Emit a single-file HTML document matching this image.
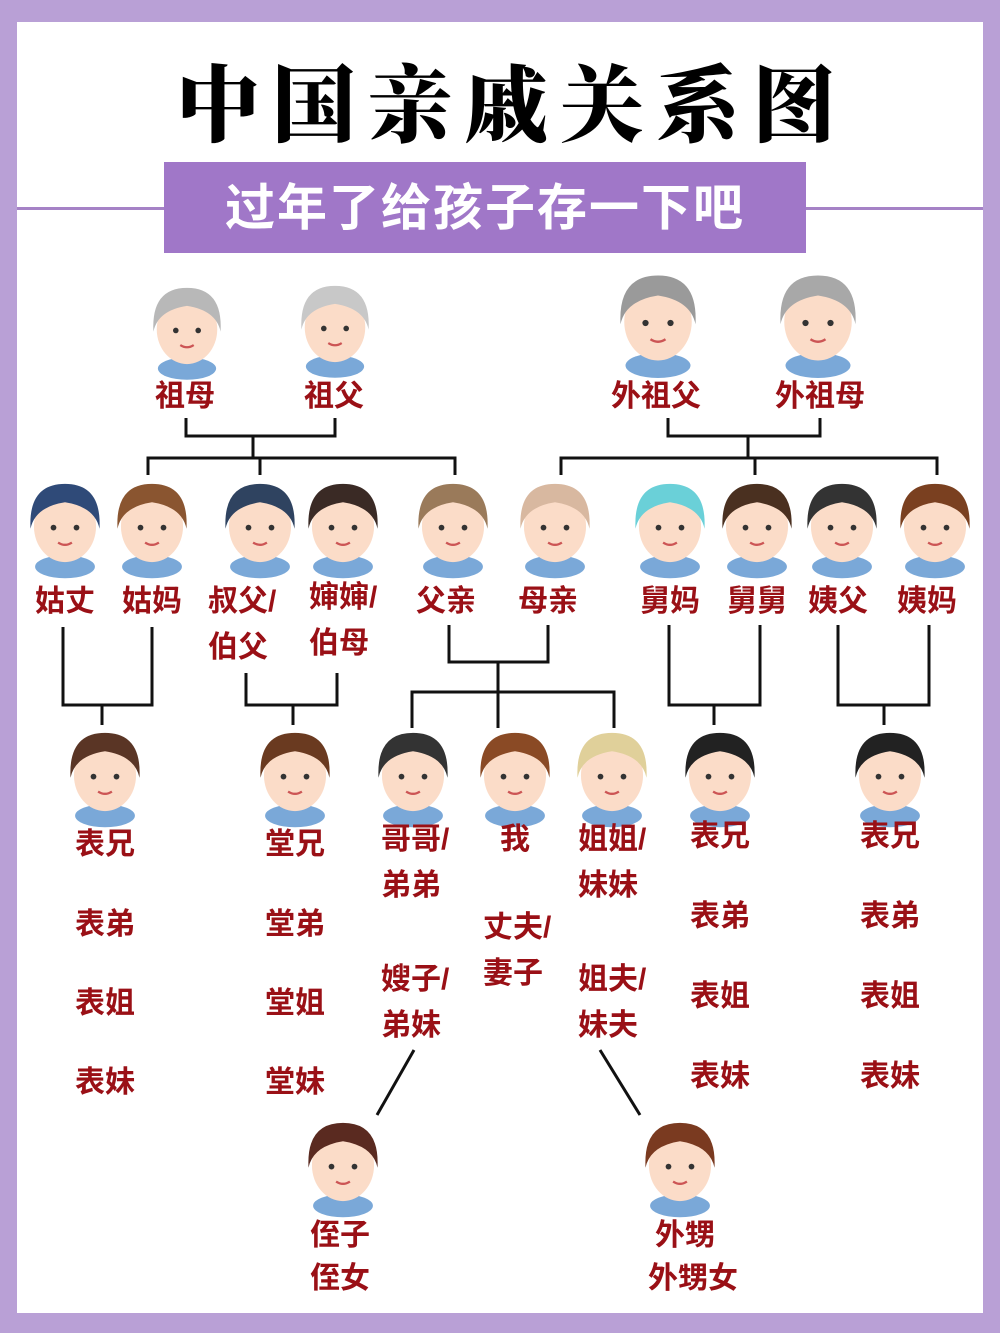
<!DOCTYPE html>
<html><head><meta charset="utf-8"><style>
body{margin:0;width:1000px;height:1333px;overflow:hidden;background:#b9a0d6;position:relative;font-family:"Liberation Sans","Noto Sans CJK SC",sans-serif}
#in{position:absolute;left:17px;top:22px;width:966px;height:1291px;background:#fff}
.t{position:absolute;font-size:30px;line-height:1;color:#9a1016;font-weight:bold;white-space:nowrap}
.t span{display:block;margin-top:16px}
</style></head><body>
<div id="in"></div>
<div style="position:absolute;left:17px;top:207px;width:966px;height:3px;background:#a582c6"></div>
<div style="position:absolute;left:150px;top:50px;width:700px;text-align:center;font-family:'Noto Serif CJK SC',serif;font-weight:900;font-size:84px;line-height:100px;letter-spacing:12px;color:#000;padding-left:12px">中国亲戚关系图</div>
<div style="position:absolute;left:164px;top:162px;width:642px;height:91px;background:#a077c8"></div>
<div style="position:absolute;left:164px;top:178px;width:642px;text-align:center;font-size:50px;line-height:60px;font-weight:bold;color:#fff;letter-spacing:2px;padding-left:0">过年了给孩子存一下吧</div>

<svg width="1000" height="1333" style="position:absolute;left:0;top:0">
<defs>
<g id="f">
<ellipse cx="0" cy="38" rx="26" ry="10" fill="#7aa8d8"/>
<ellipse cx="0" cy="3" rx="27" ry="31" fill="#fbdcc8"/>
<path d="M-30 5 Q-32 -34 0 -34 Q32 -34 30 5 Q26 -14 0 -18 Q-26 -14 -30 5Z" fill="currentColor"/>
<circle cx="-10" cy="4" r="2.5" fill="#333"/><circle cx="10" cy="4" r="2.5" fill="#333"/>
<path d="M-6 17 Q0 21 6 17" stroke="#c55" stroke-width="2" fill="none"/>
</g>
</defs>
<g stroke="#111" stroke-width="3" fill="none">
<path d="M186 418V436H335V418M253 436V458M148 475V458H455V475M260 458V475"/>
<path d="M668 418V436H820V418M748 436V458M561 475V458H937V475M755 458V475"/>
<path d="M63 627V705H152V627M102 705V725"/>
<path d="M246 673V705H337V673M293 705V725"/>
<path d="M449 625V662H548V625M498 662V728M412 728V692H614V728"/>
<path d="M669 625V705H760V625M714 705V725"/>
<path d="M838 625V705H929V625M884 705V725"/>
<path d="M414 1050L377 1115M600 1050L640 1115"/>
</g>
<use href="#f" transform="translate(187 326) scale(1.12)" color="#b8b8b8"/>
<use href="#f" transform="translate(335 324) scale(1.12)" color="#c8c8c8"/>
<use href="#f" transform="translate(658 318) scale(1.25)" color="#9a9a9a"/>
<use href="#f" transform="translate(818 318) scale(1.25)" color="#a8a8a8"/>
<use href="#f" transform="translate(65 523) scale(1.15)" color="#2f4a78"/>
<use href="#f" transform="translate(152 523) scale(1.15)" color="#8a5530"/>
<use href="#f" transform="translate(260 523) scale(1.15)" color="#2f4360"/>
<use href="#f" transform="translate(343 523) scale(1.15)" color="#3a2a25"/>
<use href="#f" transform="translate(453 523) scale(1.15)" color="#9a7a5a"/>
<use href="#f" transform="translate(555 523) scale(1.15)" color="#d8b8a0"/>
<use href="#f" transform="translate(670 523) scale(1.15)" color="#6ad0d8"/>
<use href="#f" transform="translate(757 523) scale(1.15)" color="#4a3020"/>
<use href="#f" transform="translate(842 523) scale(1.15)" color="#333"/>
<use href="#f" transform="translate(935 523) scale(1.15)" color="#7a4020"/>
<use href="#f" transform="translate(105 772) scale(1.15)" color="#5a3525"/>
<use href="#f" transform="translate(295 772) scale(1.15)" color="#6a3a20"/>
<use href="#f" transform="translate(413 772) scale(1.15)" color="#333"/>
<use href="#f" transform="translate(515 772) scale(1.15)" color="#8a4a25"/>
<use href="#f" transform="translate(612 772) scale(1.15)" color="#e0d09a"/>
<use href="#f" transform="translate(720 772) scale(1.15)" color="#222"/>
<use href="#f" transform="translate(890 772) scale(1.15)" color="#222"/>
<use href="#f" transform="translate(343 1162) scale(1.15)" color="#5a2a20"/>
<use href="#f" transform="translate(680 1162) scale(1.15)" color="#7a3a20"/>
</svg>

<div class="t" style="left:155px;top:382px">祖母</div>
<div class="t" style="left:304px;top:382px">祖父</div>
<div class="t" style="left:611px;top:382px">外祖父</div>
<div class="t" style="left:775px;top:382px">外祖母</div>

<div class="t" style="left:35px;top:587px">姑丈</div>
<div class="t" style="left:122px;top:587px">姑妈</div>
<div class="t" style="left:208px;top:587px">叔父/<span>伯父</span></div>
<div class="t" style="left:309px;top:583px">婶婶/<span>伯母</span></div>
<div class="t" style="left:416px;top:587px">父亲</div>
<div class="t" style="left:518px;top:587px">母亲</div>
<div class="t" style="left:640px;top:587px">舅妈</div>
<div class="t" style="left:727px;top:587px">舅舅</div>
<div class="t" style="left:808px;top:587px">姨父</div>
<div class="t" style="left:897px;top:587px">姨妈</div>

<div class="t" style="left:75px;top:830px">表兄<span style="margin-top:50px">表弟</span><span style="margin-top:49px">表姐</span><span style="margin-top:49px">表妹</span></div>
<div class="t" style="left:265px;top:830px">堂兄<span style="margin-top:50px">堂弟</span><span style="margin-top:49px">堂姐</span><span style="margin-top:49px">堂妹</span></div>
<div class="t" style="left:690px;top:822px">表兄<span style="margin-top:50px">表弟</span><span style="margin-top:50px">表姐</span><span style="margin-top:50px">表妹</span></div>
<div class="t" style="left:860px;top:822px">表兄<span style="margin-top:50px">表弟</span><span style="margin-top:50px">表姐</span><span style="margin-top:50px">表妹</span></div>

<div class="t" style="left:381px;top:825px">哥哥/<span>弟弟</span></div>
<div class="t" style="left:500px;top:825px">我</div>
<div class="t" style="left:578px;top:825px">姐姐/<span>妹妹</span></div>
<div class="t" style="left:483px;top:913px">丈夫/<span>妻子</span></div>
<div class="t" style="left:381px;top:965px">嫂子/<span>弟妹</span></div>
<div class="t" style="left:578px;top:965px">姐夫/<span>妹夫</span></div>

<div class="t" style="left:310px;top:1221px">侄子<span style="margin-top:13px">侄女</span></div>
<div class="t" style="left:655px;top:1221px">外甥<span style="margin-top:13px;margin-left:-7px">外甥女</span></div>
</body></html>
